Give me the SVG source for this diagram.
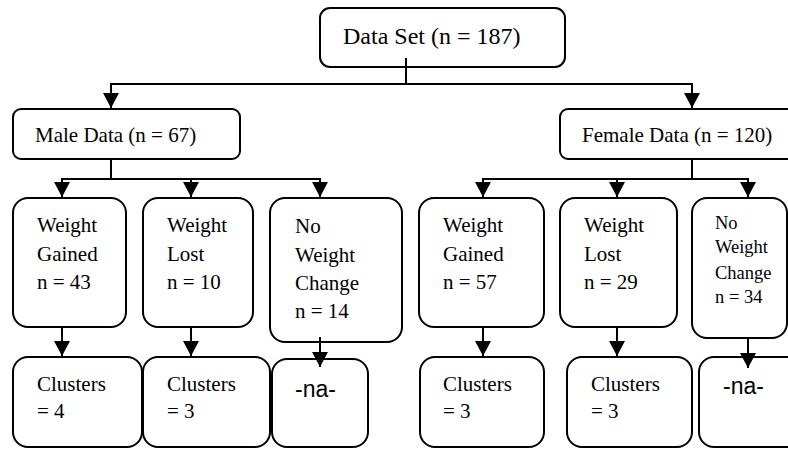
<svg xmlns="http://www.w3.org/2000/svg" width="788" height="449" viewBox="0 0 788 449">
<style>
.box{fill:#fff;stroke:#000;stroke-width:2}
.t{font-size:21px;fill:#000}
.big{font-size:24px}
.sm{font-size:18.5px}
.na{font-size:23px;fill:#000}
.c{fill:none;stroke:#000;stroke-width:2}
</style>
<defs>
<marker id="ah" markerUnits="userSpaceOnUse" markerWidth="16" markerHeight="16" refX="14" refY="7.5" orient="auto" viewBox="0 0 14 15">
<path d="M0,0 L14,7.5 L0,15 z" fill="#000"/>
</marker>
</defs>
<g id="nodes" font-family="Liberation Serif, serif">
<g id="n-root"><rect class="box" x="320" y="8" width="245" height="59" rx="10"/><text class="t big" x="343" y="44">Data Set (n = 187)</text></g>
<g id="n-male"><rect class="box" x="13" y="109" width="227" height="50" rx="8"/><text class="t" x="35" y="142">Male Data (n = 67)</text></g>
<g id="n-female"><rect class="box" x="560" y="109" width="250" height="50" rx="8"/><text class="t" x="582" y="142">Female Data (n = 120)</text></g>
<g id="n-m-wg"><rect class="box" x="13" y="198" width="113" height="129" rx="15"/><text class="t" x="37" y="232">Weight</text><text class="t" x="37" y="261">Gained</text><text class="t" x="37" y="289">n = 43</text></g>
<g id="n-m-wl"><rect class="box" x="143" y="198" width="110" height="129" rx="15"/><text class="t" x="167" y="232">Weight</text><text class="t" x="167" y="261">Lost</text><text class="t" x="167" y="289">n = 10</text></g>
<g id="n-m-nwc"><rect class="box" x="270" y="198" width="132" height="144" rx="15"/><text class="t" x="295" y="233">No</text><text class="t" x="295" y="262">Weight</text><text class="t" x="295" y="290">Change</text><text class="t" x="295" y="318">n = 14</text></g>
<g id="n-f-wg"><rect class="box" x="419" y="198" width="125" height="129" rx="15"/><text class="t" x="443" y="232">Weight</text><text class="t" x="443" y="261">Gained</text><text class="t" x="443" y="289">n = 57</text></g>
<g id="n-f-wl"><rect class="box" x="560" y="198" width="117" height="129" rx="15"/><text class="t" x="584" y="232">Weight</text><text class="t" x="584" y="261">Lost</text><text class="t" x="584" y="289">n = 29</text></g>
<g id="n-f-nwc"><rect class="box" x="692" y="198" width="95" height="140" rx="15"/><text class="t sm" x="715" y="229">No</text><text class="t sm" x="715" y="253">Weight</text><text class="t sm" x="715" y="279">Change</text><text class="t sm" x="715" y="303">n = 34</text></g>
<g id="n-m-c1"><rect class="box" x="13" y="357" width="129" height="90" rx="15"/><text class="t" x="37" y="391">Clusters</text><text class="t" x="37" y="418">= 4</text></g>
<g id="n-m-c2"><rect class="box" x="143" y="357" width="127" height="90" rx="15"/><text class="t" x="167" y="391">Clusters</text><text class="t" x="167" y="418">= 3</text></g>
<g id="n-m-na"><rect class="box" x="272" y="359" width="96" height="88" rx="15"/><text class="na" x="295" y="397" font-family="Liberation Sans, sans-serif">-na-</text></g>
<g id="n-f-c1"><rect class="box" x="420" y="357" width="124" height="90" rx="15"/><text class="t" x="443" y="391">Clusters</text><text class="t" x="443" y="418">= 3</text></g>
<g id="n-f-c2"><rect class="box" x="567" y="357" width="125" height="90" rx="15"/><text class="t" x="591" y="391">Clusters</text><text class="t" x="591" y="418">= 3</text></g>
<g id="n-f-na"><rect class="box" x="699" y="357" width="110" height="90" rx="15"/><text class="na" x="723" y="394" font-family="Liberation Sans, sans-serif">-na-</text></g>
</g>
<g id="connectors">
<line class="c" x1="406" y1="58" x2="406" y2="84"/>
<polyline class="c" points="111,84 692,84"/>
<line class="c" x1="111" y1="83" x2="111" y2="108" marker-end="url(#ah)"/>
<line class="c" x1="692" y1="83" x2="692" y2="108" marker-end="url(#ah)"/>
<line class="c" x1="111" y1="159" x2="111" y2="179"/>
<line class="c" x1="62" y1="179" x2="320" y2="179"/>
<line class="c" x1="62" y1="178" x2="62" y2="197" marker-end="url(#ah)"/>
<line class="c" x1="191" y1="178" x2="191" y2="197" marker-end="url(#ah)"/>
<line class="c" x1="320" y1="178" x2="320" y2="197" marker-end="url(#ah)"/>
<line class="c" x1="692" y1="159" x2="692" y2="179"/>
<line class="c" x1="483" y1="179" x2="748" y2="179"/>
<line class="c" x1="483" y1="178" x2="483" y2="197" marker-end="url(#ah)"/>
<line class="c" x1="617" y1="178" x2="617" y2="197" marker-end="url(#ah)"/>
<line class="c" x1="748" y1="178" x2="748" y2="197" marker-end="url(#ah)"/>
<line class="c" x1="62" y1="327" x2="62" y2="356" marker-end="url(#ah)"/>
<line class="c" x1="191" y1="327" x2="191" y2="356" marker-end="url(#ah)"/>
<line class="c" x1="320" y1="337" x2="320" y2="367" marker-end="url(#ah)"/>
<line class="c" x1="483" y1="327" x2="483" y2="356" marker-end="url(#ah)"/>
<line class="c" x1="617" y1="327" x2="617" y2="356" marker-end="url(#ah)"/>
<line class="c" x1="748" y1="339" x2="748" y2="368" marker-end="url(#ah)"/>
</g>
</svg>
